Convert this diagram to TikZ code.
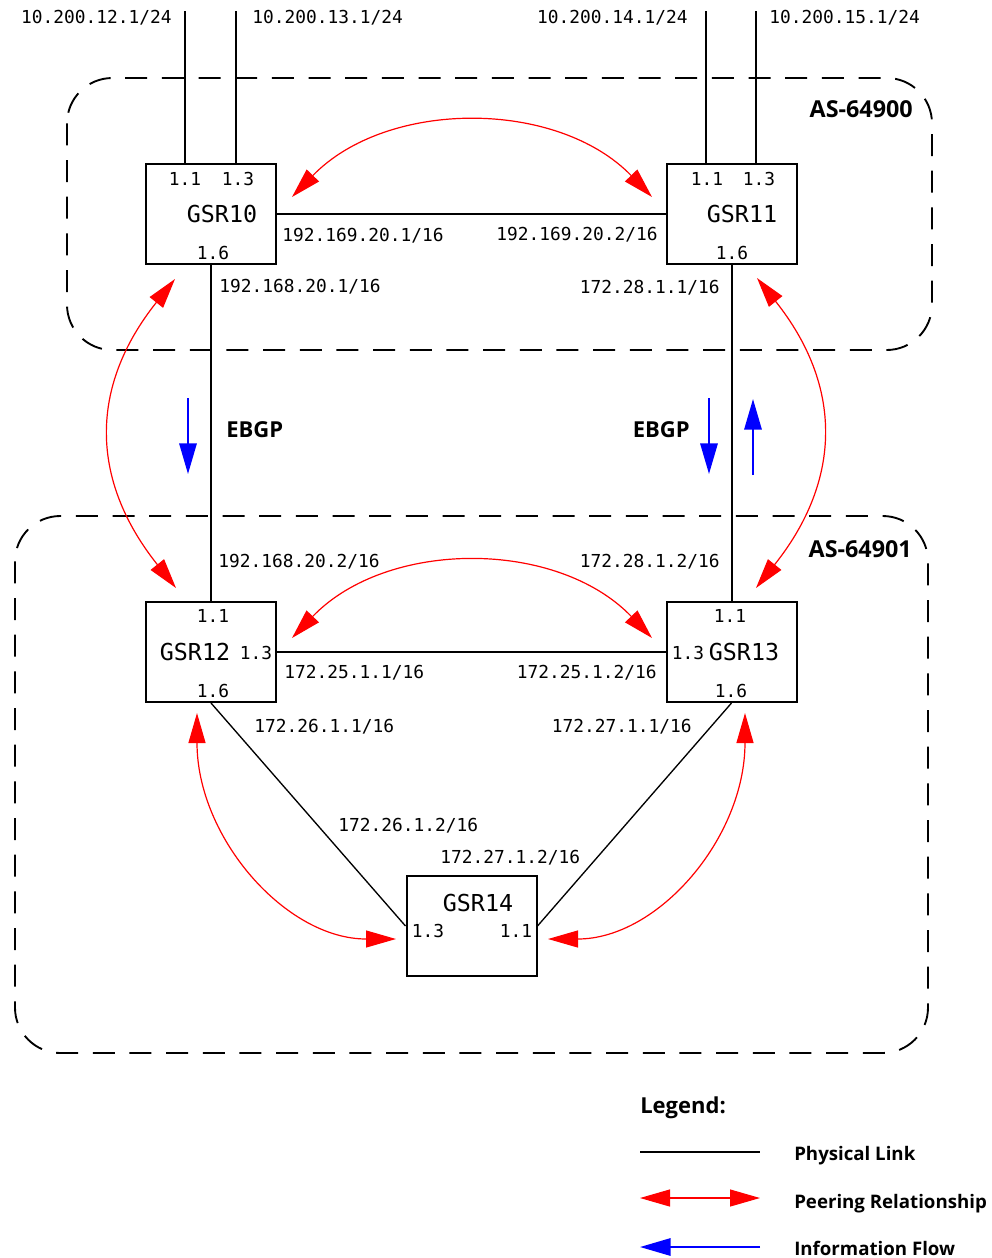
\documentclass[tikz,border=0pt]{standalone}
\usepackage{fontspec}
\newfontfamily\monof{DejaVu Sans Mono}
\newfontfamily\sansb{Open Sans}
\usetikzlibrary{arrows.meta}
\begin{document}
\begin{tikzpicture}[x=0.75pt,y=-0.75pt,
  router/.style={draw, line width=1.5pt, minimum width=97.5pt, minimum height=75pt, inner sep=0pt},
  lbl/.style={font=\monof\fontsize{13.4}{14}\selectfont, inner sep=0pt},
  rname/.style={font=\monof\fontsize{17.5}{18}\selectfont, inner sep=0pt, anchor=base},
  asl/.style={font=\sansb\bfseries\fontsize{17.5}{18}\selectfont, inner sep=0pt},
  legt/.style={font=\sansb\bfseries\fontsize{14}{15}\selectfont, inner sep=0pt, anchor=base west},
  link/.style={line width=1.5pt},
  thinlink/.style={line width=1pt},
  asbox/.style={line width=1.4pt, dash pattern=on 16.5pt off 11pt, rounded corners=34pt},
  peer/.style={red, line width=0.9pt, {Triangle[length=22.5pt,width=12.75pt]}-{Triangle[length=22.5pt,width=12.75pt]}},
  flow/.style={blue, line width=1.6pt, -{Triangle[length=23pt,width=13pt]}}
]
\useasboundingbox (0,0) rectangle (992,1258);

% AS boxes
\draw[asbox] (67,78) rectangle (932,350);
\draw[asbox] (15,516) rectangle (928,1053);
\node[asl, anchor=base east] (as1) at (913,117) {AS-64900};
\node[asl, anchor=base east] (as2) at (912,557) {AS-64901};

% routers
\node[router] (GSR10) at (211,213.5) {};
\node[router] (GSR11) at (731.5,213.5) {};
\node[router] (GSR12) at (211,652) {};
\node[router] (GSR13) at (731.5,652) {};
\node[router] (GSR14) at (471.5,926) {};

% router names
\node[rname] (n10) at (222,222) {GSR10};
\node[rname] (n11) at (742,222) {GSR11};
\node[rname] (n12) at (195,660) {GSR12};
\node[rname] (n13) at (744,660) {GSR13};
\node[rname] (n14) at (478,911) {GSR14};

% interface labels inside boxes
\node[lbl, anchor=base] (i10a) at (185,185) {1.1};
\node[lbl, anchor=base] (i10b) at (238,185) {1.3};
\node[lbl, anchor=base] (i10c) at (213,259) {1.6};
\node[lbl, anchor=base] (i11a) at (707,185) {1.1};
\node[lbl, anchor=base] (i11b) at (759,185) {1.3};
\node[lbl, anchor=base] (i11c) at (732,259) {1.6};
\node[lbl, anchor=base] (i12a) at (213,622) {1.1};
\node[lbl, anchor=base] (i12b) at (256,659) {1.3};
\node[lbl, anchor=base] (i12c) at (213,697) {1.6};
\node[lbl, anchor=base] (i13a) at (730,622) {1.1};
\node[lbl, anchor=base] (i13b) at (688,659) {1.3};
\node[lbl, anchor=base] (i13c) at (731,697) {1.6};
\node[lbl, anchor=base] (i14a) at (428,937) {1.3};
\node[lbl, anchor=base] (i14b) at (516,937) {1.1};

% top stub lines
\coordinate (t1) at (185,11);
\coordinate (t2) at (236,11);
\coordinate (t3) at (706,11);
\coordinate (t4) at (756,11);
\draw[link] (t1) -- (t1 |- GSR10.north);
\draw[link] (t2) -- (t2 |- GSR10.north);
\draw[link] (t3) -- (t3 |- GSR11.north);
\draw[link] (t4) -- (t4 |- GSR11.north);
\node[lbl, anchor=base east] (s1) at (172,23) {10.200.12.1/24};
\node[lbl, anchor=base west] (s2) at (252,23) {10.200.13.1/24};
\node[lbl, anchor=base east] (s3) at (688,23) {10.200.14.1/24};
\node[lbl, anchor=base west] (s4) at (769,23) {10.200.15.1/24};

% physical links
\draw[link] (GSR10.east) -- (GSR11.west);
\draw[link] (GSR10.south) -- (GSR12.north);
\draw[link] (GSR11.south) -- (GSR13.north);
\draw[link] (GSR12.east) -- (GSR13.west);
\draw[thinlink] (GSR12.south) -- (GSR14.west);
\draw[thinlink] (GSR13.south) -- (GSR14.east);

% link address labels
\node[lbl, anchor=base west] at (282,241) {192.169.20.1/16};
\node[lbl, anchor=base east] at (658,240) {192.169.20.2/16};
\node[lbl, anchor=base west] at (219,292) {192.168.20.1/16};
\node[lbl, anchor=base east] at (720,293) {172.28.1.1/16};
\node[lbl, anchor=base west] at (218,567) {192.168.20.2/16};
\node[lbl, anchor=base east] at (720,567) {172.28.1.2/16};
\node[lbl, anchor=base west] at (284,678) {172.25.1.1/16};
\node[lbl, anchor=base east] at (657,678) {172.25.1.2/16};
\node[lbl, anchor=base west] at (254,732) {172.26.1.1/16};
\node[lbl, anchor=base east] at (692,732) {172.27.1.1/16};
\node[lbl, anchor=base west] at (338,831) {172.26.1.2/16};
\node[lbl, anchor=base west] at (440,863) {172.27.1.2/16};

% EBGP labels
\node[asl, anchor=base west, font=\sansb\bfseries\fontsize{16.5}{18}\selectfont] (eb1) at (226,437) {EBGP};
\node[asl, anchor=base east, font=\sansb\bfseries\fontsize{16.5}{18}\selectfont] (eb2) at (690,437) {EBGP};

% peering arcs
\coordinate (a1) at (292,197); \coordinate (a2) at (652,197);
\coordinate (b1) at (292,638); \coordinate (b2) at (652,638);
\coordinate (c1) at (175,279); \coordinate (c2) at (176,588);
\coordinate (d1) at (757,278); \coordinate (d2) at (756,588);
\coordinate (e1) at (197,713); \coordinate (e2) at (396,939);
\coordinate (f1) at (745,713); \coordinate (f2) at (548,939);
\draw[peer] (a1) .. controls (387,99) and (557,99) .. (a2);
\draw[peer] (b1) .. controls (387,539) and (557,539) .. (b2);
\draw[peer] (c1) .. controls (89,387) and (90,480) .. (c2);
\draw[peer] (d1) .. controls (843,386) and (842,480) .. (d2);
\draw[peer] (e1) .. controls (197,838) and (286,939) .. (e2);
\draw[peer] (f1) .. controls (745,838) and (658,939) .. (f2);

% information flow arrows
\coordinate (g1) at (188,398); \coordinate (g2) at (188,474);
\coordinate (h1) at (709,398); \coordinate (h2) at (709,474);
\coordinate (k1) at (753,475); \coordinate (k2) at (753,399);
\draw[flow] (g1) -- (g2);
\draw[flow] (h1) -- (h2);
\draw[flow] (k1) -- (k2);

% legend
\node[legt, font=\sansb\bfseries\fontsize{16.5}{18}\selectfont] (leg) at (640,1113) {Legend:};
\coordinate (la1) at (640,1152); \coordinate (la2) at (760,1152);
\coordinate (lb1) at (640,1198); \coordinate (lb2) at (760,1198);
\coordinate (lc1) at (760,1247); \coordinate (lc2) at (640,1247);
\draw[link] (la1) -- (la2);
\draw[peer] (lb1) -- (lb2);
\draw[flow] (lc1) -- (lc2);
\node[legt] (lt1) at (794,1160) {Physical Link};
\node[legt] (lt2) at (794,1208) {Peering Relationship};
\node[legt] (lt3) at (794,1255) {Information Flow};
\end{tikzpicture}
\end{document}
